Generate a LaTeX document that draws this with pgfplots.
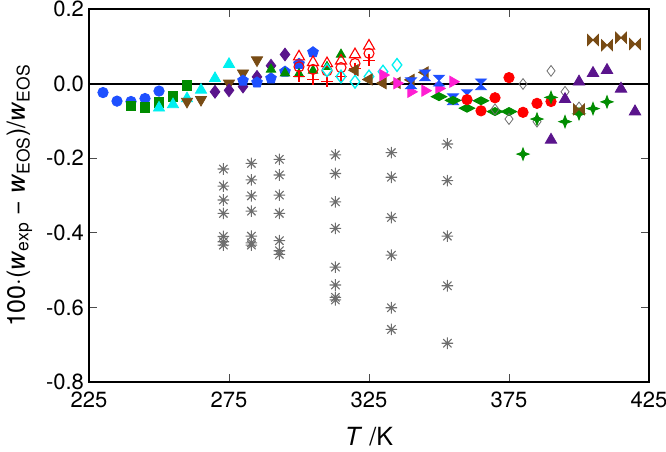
\documentclass[border=0pt]{standalone}
\usepackage{pgfplots}
\pgfplotsset{compat=1.18}
\usetikzlibrary{plotmarks}
\usepackage{fontspec}
\setmainfont{TeX Gyre Heros}
\definecolor{cblue}{RGB}{30,80,255}
\definecolor{cgreen}{RGB}{0,140,0}
\definecolor{ccyan}{RGB}{0,240,240}
\definecolor{cbrown}{RGB}{120,75,20}
\definecolor{cpurple}{RGB}{90,20,140}
\definecolor{cred}{RGB}{255,0,0}
\definecolor{cpink}{RGB}{255,30,210}
\definecolor{cgray}{RGB}{110,110,110}
\pgfdeclareplotmark{hourglass}{%
 \pgfpathmoveto{\pgfqpoint{-\pgfplotmarksize}{\pgfplotmarksize}}%
 \pgfpathlineto{\pgfqpoint{\pgfplotmarksize}{\pgfplotmarksize}}%
 \pgfpathlineto{\pgfqpoint{-\pgfplotmarksize}{-\pgfplotmarksize}}%
 \pgfpathlineto{\pgfqpoint{\pgfplotmarksize}{-\pgfplotmarksize}}%
 \pgfpathclose\pgfusepathqfillstroke}
\pgfdeclareplotmark{bowtie}{%
 \pgfpathmoveto{\pgfqpoint{-\pgfplotmarksize}{\pgfplotmarksize}}%
 \pgfpathlineto{\pgfqpoint{-\pgfplotmarksize}{-\pgfplotmarksize}}%
 \pgfpathlineto{\pgfqpoint{\pgfplotmarksize}{\pgfplotmarksize}}%
 \pgfpathlineto{\pgfqpoint{\pgfplotmarksize}{-\pgfplotmarksize}}%
 \pgfpathclose\pgfusepathqfillstroke}
\pgfdeclareplotmark{star4}{%
 \pgfpathmoveto{\pgfqpoint{0pt}{1.1\pgfplotmarksize}}%
 \pgfpathlineto{\pgfqpoint{0.3\pgfplotmarksize}{0.3\pgfplotmarksize}}%
 \pgfpathlineto{\pgfqpoint{1.1\pgfplotmarksize}{0pt}}%
 \pgfpathlineto{\pgfqpoint{0.3\pgfplotmarksize}{-0.3\pgfplotmarksize}}%
 \pgfpathlineto{\pgfqpoint{0pt}{-1.1\pgfplotmarksize}}%
 \pgfpathlineto{\pgfqpoint{-0.3\pgfplotmarksize}{-0.3\pgfplotmarksize}}%
 \pgfpathlineto{\pgfqpoint{-1.1\pgfplotmarksize}{0pt}}%
 \pgfpathlineto{\pgfqpoint{-0.3\pgfplotmarksize}{0.3\pgfplotmarksize}}%
 \pgfpathclose\pgfusepathqfillstroke}
\pgfdeclareplotmark{widediamond}{%
 \pgfpathmoveto{\pgfqpoint{0pt}{0.75\pgfplotmarksize}}%
 \pgfpathlineto{\pgfqpoint{1.45\pgfplotmarksize}{0pt}}%
 \pgfpathlineto{\pgfqpoint{0pt}{-0.75\pgfplotmarksize}}%
 \pgfpathlineto{\pgfqpoint{-1.45\pgfplotmarksize}{0pt}}%
 \pgfpathclose\pgfusepathqfillstroke}
\pgfdeclareplotmark{ast8}{%
 \pgfpathmoveto{\pgfqpoint{-\pgfplotmarksize}{0pt}}\pgfpathlineto{\pgfqpoint{\pgfplotmarksize}{0pt}}%
 \pgfpathmoveto{\pgfqpoint{0pt}{-\pgfplotmarksize}}\pgfpathlineto{\pgfqpoint{0pt}{\pgfplotmarksize}}%
 \pgfpathmoveto{\pgfqpoint{-0.72\pgfplotmarksize}{-0.72\pgfplotmarksize}}\pgfpathlineto{\pgfqpoint{0.72\pgfplotmarksize}{0.72\pgfplotmarksize}}%
 \pgfpathmoveto{\pgfqpoint{-0.72\pgfplotmarksize}{0.72\pgfplotmarksize}}\pgfpathlineto{\pgfqpoint{0.72\pgfplotmarksize}{-0.72\pgfplotmarksize}}%
 \pgfusepathqstroke}
\begin{document}
\begin{tikzpicture}
\begin{axis}[
  scale only axis,
  width=280pt, height=186.5pt,
  xmin=225, xmax=425, ymin=-0.8, ymax=0.2,
  xtick={225,275,325,375,425},
  ytick={-0.8,-0.6,-0.4,-0.2,0,0.2},
  yticklabels={-0.8,-0.6,-0.4,-0.2,0.0,0.2},
  /pgf/number format/assume math mode=true,
  tick align=inside,
  tick pos=both,
  major tick length=4pt,
  axis line style={line width=0.9pt},
  tick style={line width=0.4pt, black!70},
  ticklabel style={font=\fontsize{11}{13}\selectfont},
  xticklabel style={yshift=-1.5pt},
  yticklabel style={xshift=1pt},
  xlabel={\textit{T} /K},
  ylabel={100$\cdot$(\textit{w}\textsubscript{exp} − \textit{w}\textsubscript{EOS})/\textit{w}\textsubscript{EOS}},
  label style={font=\fontsize{12.5}{15}\selectfont},
  xlabel style={yshift=-3pt},
  ylabel style={yshift=0pt},
  clip=false,
  mark size=2.6pt,
]
\addplot[black, line width=1pt, no marks] coordinates {(225,0) (425,0)};
% gray asterisks
\addplot[only marks, mark=ast8, mark size=2.9pt, mark options={draw=cgray, line width=0.55pt}] coordinates {
(273,-0.229)(273,-0.275)(273,-0.312)(273,-0.348)(273,-0.410)(273,-0.424)(273,-0.433)
(283,-0.214)(283,-0.258)(283,-0.301)(283,-0.342)(283,-0.409)(283,-0.427)(283,-0.433)
(293,-0.203)(293,-0.245)(293,-0.299)(293,-0.348)(293,-0.421)(293,-0.448)(293,-0.458)
(313,-0.191)(313,-0.241)(313,-0.317)(313,-0.388)(313,-0.492)(313,-0.540)(313,-0.573)(313,-0.580)
(333,-0.185)(333,-0.251)(333,-0.359)(333,-0.460)(333,-0.601)(333,-0.659)
(353,-0.162)(353,-0.260)(353,-0.409)(353,-0.542)(353,-0.696)};
% blue circles
\addplot[only marks, mark=*, mark options={draw=cblue, fill=cblue}] coordinates {
(230,-0.024)(235,-0.047)(240,-0.048)(245,-0.040)(250,-0.020)};
% green squares
\addplot[only marks, mark=square*, mark size=2.4pt, mark options={draw=cgreen, fill=cgreen}] coordinates {
(240,-0.060)(245,-0.064)(250,-0.051)(255,-0.035)(260,-0.005)};
% cyan triangles
\addplot[only marks, mark=triangle*, mark size=3.2pt, mark options={draw=ccyan, fill=ccyan}] coordinates {
(250,-0.065)(255,-0.056)(260,-0.040)(265,-0.017)(270,0.014)(275,0.052)};
% brown down triangles
\addplot[only marks, mark=triangle*, mark size=3.2pt, mark options={draw=cbrown, fill=cbrown, rotate=180}] coordinates {
(260,-0.048)(265,-0.043)(275,0.001)(280,0.028)(285,0.063)};
% purple diamonds
\addplot[only marks, mark=diamond*, mark size=3.2pt, mark options={draw=cpurple, fill=cpurple}] coordinates {
(270,-0.022)(275,-0.018)(280,-0.008)(285,0.018)(290,0.048)(295,0.078)};
% blue pentagons
\addplot[only marks, mark=pentagon*, mark size=2.8pt, mark options={draw=cblue, fill=cblue}] coordinates {
(280,0.008)(285,0.003)(290,0.014)(295,0.032)(300,0.053)(305,0.084)};
% green triangles
\addplot[only marks, mark=triangle*, mark size=2.7pt, mark options={draw=cgreen, fill=cgreen}] coordinates {
(290,0.038)(295,0.028)(300,0.026)(305,0.035)(310,0.045)(315,0.078)};
% red open triangles
\addplot[only marks, mark=triangle, mark size=3.2pt, mark options={draw=cred, line width=0.55pt}] coordinates {
(300,0.072)(305,0.057)(310,0.054)(315,0.061)(320,0.078)(325,0.101)};
% red open circles
\addplot[only marks, mark=o, mark size=2.5pt, mark options={draw=cred, line width=0.55pt}] coordinates {
(300,0.045)(305,0.038)(310,0.034)(315,0.043)(320,0.054)(325,0.081)};
% red plus
\addplot[only marks, mark=+, mark size=3pt, mark options={draw=cred, line width=0.55pt}] coordinates {
(300,0.020)(305,0.011)(310,0.006)(315,0.019)(320,0.040)(325,0.062)};
% cyan open diamonds
\addplot[only marks, mark=diamond, mark size=3.2pt, mark options={draw=ccyan, line width=0.65pt}] coordinates {
(310,0.036)(315,0.019)(320,0.005)(325,0.019)(330,0.032)(335,0.050)};
% brown left triangles
\addplot[only marks, mark=triangle*, mark size=3.2pt, mark options={draw=cbrown, fill=cbrown, rotate=90}] coordinates {
(320,0.036)(325,0.011)(330,0.001)(335,0.002)(340,0.010)(345,0.030)};
% pink right triangles
\addplot[only marks, mark=triangle*, mark size=3.2pt, mark options={draw=cpink, fill=cpink, rotate=-90}] coordinates {
(330,0.023)(335,0.001)(340,-0.022)(345,-0.019)(350,-0.013)(355,0.005)};
% blue hourglass
\addplot[only marks, mark=hourglass, mark size=2.7pt, mark options={draw=cblue, fill=cblue}] coordinates {
(340,0.001)(345,0.022)(350,0.008)(355,-0.042)(360,-0.031)(365,-0.002)};
% green wide diamonds
\addplot[only marks, mark=widediamond, mark size=2.7pt, mark options={draw=cgreen, fill=cgreen}] coordinates {
(350,-0.035)(355,-0.045)(360,-0.066)(365,-0.046)(370,-0.075)(375,-0.075)};
% red filled circles
\addplot[only marks, mark=*, mark size=2.6pt, mark options={draw=cred, fill=cred}] coordinates {
(360,-0.043)(365,-0.073)(370,-0.038)(375,0.016)(380,-0.077)(385,-0.053)(390,-0.048)};
% gray open diamonds
\addplot[only marks, mark=diamond, mark size=2.7pt, mark options={draw=cgray, line width=0.4pt}] coordinates {
(370,-0.069)(375,-0.095)(380,-0.001)(385,-0.102)(390,0.034)(395,-0.022)(400,-0.064)};
% green 4-point stars
\addplot[only marks, mark=star4, mark size=2.8pt, mark options={draw=cgreen, fill=cgreen}] coordinates {
(380,-0.189)(385,-0.095)(390,-0.037)(395,-0.102)(400,-0.081)(405,-0.067)(410,-0.049)};
% purple triangles
\addplot[only marks, mark=triangle*, mark size=3.3pt, mark options={draw=cpurple, fill=cpurple}] coordinates {
(390,-0.151)(395,-0.042)(400,0.005)(405,0.028)(410,0.036)(415,-0.014)(420,-0.075)};
% brown bowties
\addplot[only marks, mark=bowtie, mark size=2.7pt, mark options={draw=cbrown, fill=cbrown}] coordinates {
(400,-0.069)(405,0.117)(410,0.103)(415,0.123)(420,0.106)};
\coordinate (SW) at (rel axis cs:0,0);
\coordinate (NE) at (rel axis cs:1,1);
\end{axis}
\pgfresetboundingbox
\path[use as bounding box] ([shift={(-44.5pt,-35pt)}]SW) rectangle ([shift={(8.5pt,4.5pt)}]NE);
\end{tikzpicture}
\end{document}
